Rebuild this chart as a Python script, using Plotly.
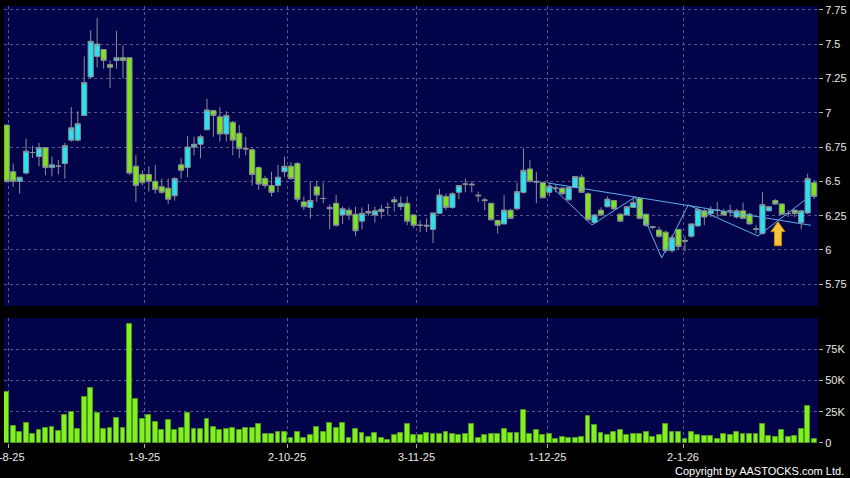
import plotly.graph_objects as go

# ---------------- data ----------------
opens = [6.91, 6.57, 6.50, 6.56, 6.71, 6.68, 6.745, 6.60, 6.61, 6.63,
         6.80, 6.80, 6.98, 7.26, 7.41, 7.46, 7.35, 7.38, 7.40, 7.40,
         6.61, 6.55, 6.55, 6.50, 6.46, 6.45, 6.395, 6.62, 6.60, 6.75,
         6.77, 6.875, 7.015, 6.97, 6.845, 6.93, 6.85, 6.74, 6.73, 6.60,
         6.52, 6.47, 6.47, 6.57, 6.61, 6.63, 6.35, 6.31, 6.46, 6.375,
         6.30, 6.34, 6.255, 6.29, 6.26, 6.21, 6.28, 6.255, 6.28, 6.31,
         6.365, 6.316, 6.34, 6.255, 6.18, 6.18, 6.15, 6.267, 6.39, 6.31,
         6.42, 6.48, 6.48, 6.40, 6.365, 6.34, 6.215, 6.19, 6.29, 6.30,
         6.42, 6.59, 6.50, 6.49, 6.42, 6.45, 6.45, 6.365, 6.455, 6.53,
         6.41, 6.20, 6.29, 6.315, 6.36, 6.26, 6.255, 6.31, 6.375, 6.26,
         6.17, 6.145, 6.13, 5.995, 6.15, 6.07, 6.10, 6.175, 6.285, 6.265,
         6.29, 6.28, 6.285, 6.24, 6.285, 6.26, 6.155, 6.12, 6.285, 6.36,
         6.335, 6.265, 6.29, 6.20, 6.27, 6.49]
highs = [6.91, 6.63, 6.53, 6.81, 6.76, 6.78, 6.75, 6.68, 6.655, 6.78,
         7.04, 7.01, 7.41, 7.60, 7.69, 7.46, 7.38, 7.595, 7.49, 7.40,
         6.69, 6.58, 6.61, 6.62, 6.52, 6.52, 6.53, 6.67, 6.83, 6.825,
         6.84, 7.10, 7.02, 7.04, 7.01, 6.94, 6.91, 6.825, 6.74, 6.61,
         6.54, 6.57, 6.62, 6.68, 6.64, 6.64, 6.39, 6.50, 6.50, 6.49,
         6.33, 6.40, 6.315, 6.31, 6.315, 6.31, 6.335, 6.315, 6.33, 6.345,
         6.39, 6.39, 6.39, 6.26, 6.215, 6.23, 6.27, 6.445, 6.41, 6.42,
         6.47, 6.52, 6.50, 6.425, 6.38, 6.34, 6.22, 6.40, 6.30, 6.49,
         6.74, 6.655, 6.57, 6.50, 6.49, 6.475, 6.46, 6.46, 6.54, 6.55,
         6.42, 6.26, 6.31, 6.39, 6.365, 6.27, 6.32, 6.385, 6.38, 6.265,
         6.175, 6.17, 6.14, 6.11, 6.15, 6.10, 6.19, 6.315, 6.30, 6.32,
         6.35, 6.30, 6.33, 6.30, 6.345, 6.27, 6.18, 6.42, 6.32, 6.37,
         6.34, 6.29, 6.30, 6.29, 6.555, 6.51]
lows = [6.49, 6.46, 6.41, 6.55, 6.67, 6.61, 6.545, 6.535, 6.55, 6.52,
        6.79, 6.79, 6.98, 7.25, 7.33, 7.32, 7.18, 7.32, 7.25, 6.545,
        6.35, 6.47, 6.425, 6.41, 6.41, 6.335, 6.36, 6.52, 6.53, 6.69,
        6.67, 6.875, 6.825, 6.79, 6.79, 6.69, 6.67, 6.69, 6.47, 6.44,
        6.45, 6.39, 6.42, 6.53, 6.51, 6.35, 6.29, 6.23, 6.35, 6.34,
        6.15, 6.17, 6.19, 6.22, 6.10, 6.15, 6.25, 6.20, 6.23, 6.255,
        6.28, 6.29, 6.18, 6.16, 6.13, 6.13, 6.05, 6.26, 6.29, 6.30,
        6.37, 6.42, 6.42, 6.35, 6.29, 6.215, 6.12, 6.185, 6.23, 6.29,
        6.41, 6.49, 6.34, 6.38, 6.39, 6.42, 6.40, 6.36, 6.45, 6.415,
        6.215, 6.195, 6.25, 6.31, 6.29, 6.205, 6.25, 6.305, 6.225, 6.17,
        6.15, 6.09, 5.98, 5.98, 6.00, 5.99, 6.09, 6.17, 6.18, 6.24,
        6.24, 6.25, 6.245, 6.23, 6.225, 6.185, 6.12, 6.11, 6.28, 6.33,
        6.255, 6.24, 6.24, 6.15, 6.26, 6.37]
closes = [6.50, 6.50, 6.53, 6.72, 6.71, 6.745, 6.60, 6.62, 6.61, 6.76,
          6.89, 6.92, 7.22, 7.52, 7.50, 7.38, 7.33, 7.40, 7.38, 6.56,
          6.47, 6.49, 6.50, 6.44, 6.42, 6.37, 6.52, 6.58, 6.75, 6.77,
          6.825, 7.02, 6.98, 6.845, 6.98, 6.80, 6.74, 6.735, 6.55, 6.48,
          6.47, 6.42, 6.53, 6.61, 6.52, 6.37, 6.315, 6.36, 6.40, 6.375,
          6.31, 6.18, 6.30, 6.255, 6.14, 6.267, 6.27, 6.285, 6.296, 6.31,
          6.35, 6.34, 6.21, 6.18, 6.18, 6.175, 6.27, 6.40, 6.31, 6.41,
          6.47, 6.48, 6.475, 6.395, 6.36, 6.22, 6.18, 6.29, 6.23, 6.425,
          6.58, 6.50, 6.495, 6.38, 6.465, 6.45, 6.41, 6.455, 6.535, 6.42,
          6.22, 6.255, 6.255, 6.37, 6.30, 6.21, 6.315, 6.345, 6.23, 6.18,
          6.165, 6.10, 5.995, 6.09, 6.025, 6.065, 6.19, 6.295, 6.24, 6.295,
          6.29, 6.255, 6.285, 6.285, 6.23, 6.19, 6.15, 6.33, 6.315, 6.335,
          6.26, 6.265, 6.265, 6.285, 6.52, 6.39]
volumes_k = [41, 13.7, 9, 16, 7, 10, 12, 13, 9.4, 22,
             25, 11, 37, 44, 24, 11, 11.6, 19.6, 12, 95,
             35, 19, 22, 17, 10, 18, 10, 12, 24, 11,
             11, 19, 13, 10, 11, 12, 10, 12, 12, 15,
             7, 7, 9, 9, 4, 9, 4, 6, 13, 9,
             16, 12, 16, 4, 11, 8, 5, 8, 4, 2.4,
             6.5, 8, 15, 6.5, 6, 8, 7, 7, 9, 7.5,
             6, 7, 15, 4, 6.5, 7, 7, 11.5, 8, 8,
             26, 7.5, 10.5, 6, 7, 3, 5, 4, 4, 5,
             21.5, 14, 8, 6, 9, 10.5, 6.5, 7, 7, 9,
             5, 6.5, 15, 8.6, 8.6, 3.5, 9, 6.5, 5.4, 5.4,
             3.5, 7, 6.5, 9, 7, 7.5, 7.5, 15, 5.6, 5,
             10.5, 5, 5.4, 11, 29.5, 3]
volumes = [v * 1000 for v in volumes_k]
bar_idx = list(range(len(closes)))

# date tick labels (positions in bar-index units)
date_tick_pos = [0.3, 21.3, 43.4, 63.45, 83.7, 104.7]
date_tick_text = ["1-8-25", "1-9-25", "2-10-25", "3-11-25", "1-12-25", "2-1-26"]

price_ticks = [5.75, 6.0, 6.25, 6.5, 6.75, 7.0, 7.25, 7.5, 7.75]
price_tick_text = ["5.75", "6", "6.25", "6.5", "6.75", "7", "7.25", "7.5", "7.75"]
vol_ticks = [0, 25000, 50000, 75000]
vol_tick_text = ["0", "25K", "50K", "75K"]

# drawn trend lines (bar index, price)
zigzag_x = [84.1, 90.6, 97.3, 101.4, 105.5, 116.3, 124.0]
zigzag_y = [6.473, 6.182, 6.386, 5.942, 6.328, 6.102, 6.379]
trend_x = [83.8, 124.5]
trend_y = [6.488, 6.18]

# signal arrow position (bar index, price of tip)
arrow_x = 119.4
arrow_tip = 6.206

# ---------------- figure ----------------
GRID = "#56568a"
TXT = "#e8e8e8"
FONT = "Liberation Sans, Arial, sans-serif"

fig = go.Figure()

fig.add_trace(go.Candlestick(
    x=bar_idx, open=opens, high=highs, low=lows, close=closes,
    increasing=dict(fillcolor="#25e3f0", line=dict(color="#8a8f96", width=1)),
    decreasing=dict(fillcolor="#7ee21e", line=dict(color="#8a8f96", width=1)),
    whiskerwidth=0, xaxis="x", yaxis="y", showlegend=False, hoverinfo="skip"))

fig.add_trace(go.Scatter(x=trend_x, y=trend_y, mode="lines",
                         line=dict(color="#5aaee8", width=1),
                         xaxis="x", yaxis="y", showlegend=False, hoverinfo="skip"))
fig.add_trace(go.Scatter(x=zigzag_x, y=zigzag_y, mode="lines",
                         line=dict(color="#5aaee8", width=1),
                         xaxis="x", yaxis="y", showlegend=False, hoverinfo="skip"))

fig.add_trace(go.Bar(x=bar_idx, y=volumes, width=0.75,
                     marker=dict(color="#80f020", line=dict(color="#4f9a1e", width=1)),
                     xaxis="x2", yaxis="y2", showlegend=False, hoverinfo="skip"))

# arrow (pixel-sized, anchored at data position)
fig.add_shape(type="path", xref="x", yref="y",
              xsizemode="pixel", ysizemode="pixel",
              xanchor=arrow_x, yanchor=arrow_tip,
              path="M 0,0 L 7,-10 L 3.5,-10 L 3.5,-24 L -3.5,-24 L -3.5,-10 L -7,-10 Z",
              fillcolor="#f6c33c", line=dict(color="#c98a12", width=1), layer="above")

xr = [-0.42, 125.6]
common_x = dict(range=xr, showgrid=True, gridcolor=GRID, griddash="3px,3px", gridwidth=1,
                zeroline=False, showline=False, tickmode="array", tickvals=date_tick_pos,
                ticktext=date_tick_text, fixedrange=True, automargin=False)

fig.update_layout(
    width=850, height=478,
    margin=dict(l=4, r=32, t=6, b=35, autoexpand=False),
    paper_bgcolor="#000000", plot_bgcolor="#03034a",
    font=dict(family=FONT, size=11, color=TXT),
    showlegend=False,
    boxgap=0.2, boxgroupgap=0,
    xaxis=dict(common_x, domain=[0, 1], anchor="y", showticklabels=False, ticks="",
               rangeslider=dict(visible=False)),
    yaxis=dict(domain=[0.3135, 1], side="right", range=[5.592, 7.777],
               tickmode="array", tickvals=price_ticks, ticktext=price_tick_text,
               showgrid=True, gridcolor=GRID, griddash="3px,3px", zeroline=False,
               ticks="outside", ticklen=4, tickcolor="#b0b0b0", automargin=False,
               tickfont=dict(size=11, color=TXT), anchor="x", fixedrange=True),
    xaxis2=dict(common_x, domain=[0, 1], anchor="y2", showticklabels=True,
                ticks="outside", ticklen=4, tickcolor="#b0b0b0",
                tickfont=dict(size=11, color=TXT), ticklabeloverflow="allow"),
    yaxis2=dict(domain=[0, 0.286], side="right", range=[0, 100000],
                tickmode="array", tickvals=vol_ticks, ticktext=vol_tick_text,
                showgrid=True, gridcolor=GRID, griddash="3px,3px", zeroline=False,
                ticks="outside", ticklen=4, tickcolor="#b0b0b0", automargin=False,
                tickfont=dict(size=11, color=TXT), anchor="x2", fixedrange=True),
    bargap=0,
)

fig.add_annotation(text="Copyright by AASTOCKS.com Ltd.", xref="paper", yref="paper",
                   x=1, y=0, xanchor="right", yanchor="middle", xshift=28, yshift=-28,
                   showarrow=False, font=dict(size=11, color="#ffffff", family=FONT))

fig.write_html("out.html", config={"displayModeBar": False},
               post_script="document.body.style.margin='0';document.body.style.background='#000';")
